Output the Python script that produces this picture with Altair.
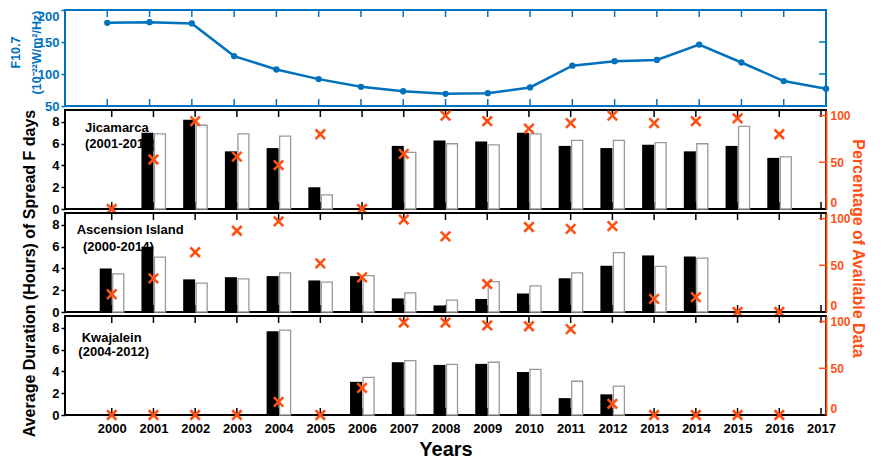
import altair as alt
import pandas as pd

# ---------------- data ----------------
years = list(range(2000, 2018))
f107 = [180, 181, 179, 128, 107, 92, 80, 73, 69, 70, 79, 113, 120, 122, 146, 118, 89, 77]

st_years = list(range(2000, 2017))

jic_black = [None, 7.0, 8.2, 5.3, 5.6, 2.0, None, 5.8, 6.3, 6.2, 7.0, 5.8, 5.6, 5.9, 5.3, 5.8, 4.7]
jic_white = [None, 6.9, 7.7, 6.9, 6.7, 1.3, None, 5.2, 6.0, 5.9, 6.9, 6.3, 6.3, 6.1, 6.0, 7.6, 4.8]
jic_pct = [0, 53, 94, 56, 47, 80, 0, 59, 100, 94, 86, 92, 100, 92, 94, 97, 80]

asc_black = [4.0, 6.0, 3.0, 3.2, 3.3, 2.9, 3.3, 1.25, 0.6, 1.2, 1.7, 3.1, 4.25, 5.2, 5.1, None, None]
asc_white = [3.5, 5.05, 2.65, 3.05, 3.6, 2.75, 3.35, 1.75, 1.1, 2.8, 2.4, 3.6, 5.45, 4.2, 4.95, None, None]
asc_pct = [19, 36, 64, 87, 97, 52, 37, 99, 81, 30, 91, 89, 92, 14, 16, 0, 0]

kwa_black = [None, None, None, None, 7.7, None, 3.05, 4.85, 4.6, 4.7, 3.95, 1.55, 1.9, None, None, None, None]
kwa_white = [None, None, None, None, 7.8, None, 3.45, 5.0, 4.65, 4.85, 4.2, 3.1, 2.65, None, None, None, None]
kwa_pct = [0, 0, 0, 0, 14, 0, 29, 99, 99, 96, 95, 92, 12, 0, 0, 0, 0]

jic_label = ["Jicamarca", "(2001-2016)"]
asc_label = ["Ascension Island", "(2000-2014)"]
kwa_label = ["Kwajalein", "(2004-2012)"]

left_ticks = [0, 2, 4, 6, 8]
right_ticks = [0, 50, 100]
f_ticks = [50, 100, 150, 200]

# ---------------- style ----------------
FONT = "Liberation Sans"
BLUE = "#0072BD"
ORANGE = "#FF5014"
W = 761
H_TOP = 96
H = 99
GAP = 4
LEFT_MAX = 9.1
RIGHT_MAX = 106

xscale = alt.Scale(domain=[1999, 2017], nice=False, zero=False)
yl = alt.Scale(domain=[0, LEFT_MAX], nice=False, zero=True)
yr = alt.Scale(domain=[0, RIGHT_MAX], nice=False, zero=True)
fscale = alt.Scale(domain=[50, 200], nice=False, zero=False)

year_df = pd.DataFrame({"year": years})


def xenc(field, axis):
    return alt.X(f"{field}:Q", scale=xscale, axis=axis)


def year_ticks(h, color, axis):
    top = alt.Chart(year_df).mark_rule(color=color, strokeWidth=1.5).encode(
        x=xenc("year", axis), y=alt.value(0), y2=alt.value(7))
    bot = alt.Chart(year_df).mark_rule(color=color, strokeWidth=1.5).encode(
        x=xenc("year", axis), y=alt.value(h), y2=alt.value(h - 7))
    return [top, bot]


# ---------------- top panel: F10.7 ----------------
f_df = pd.DataFrame({"year": years, "f107": f107})
f_axis = alt.Axis(values=f_ticks, labelFont=FONT, labelFontSize=13, labelFontWeight="bold",
                  labelColor=BLUE, tickColor=BLUE, tickSize=4, tickWidth=1.5, domain=False,
                  grid=False, labelPadding=2,
                  labelBaseline={"condition": {"test": "datum.value == 200", "value": "top"},
                                 "value": "middle"},
                  title=["F10.7", "(10⁻²²W/m²/Hz)"], titleFont=FONT, titleFontSize=12.5,
                  titleFontWeight="bold", titleColor=BLUE, titleX=-43, titleY=42,
                  titleLineHeight=21)
f_line = alt.Chart(f_df).mark_line(
    color=BLUE, strokeWidth=2.5,
    point=alt.OverlayMarkDef(filled=True, size=40, color=BLUE)
).encode(x=xenc("year", None), y=alt.Y("f107:Q", scale=fscale, axis=f_axis))
f_rt = alt.Chart(pd.DataFrame({"v": f_ticks[1:3]})).mark_rule(color=BLUE, strokeWidth=1.5).encode(
    y=alt.Y("v:Q", scale=fscale, axis=f_axis), x=alt.value(W - 7), x2=alt.value(W))
top_panel = alt.layer(*year_ticks(H_TOP, BLUE, None), f_rt, f_line).properties(
    width=W, height=H_TOP, view=alt.ViewBackground(stroke=BLUE, strokeWidth=2))


# ---------------- station panels ----------------
def station(black, white, pct, label, lx, ly, xaxis=None, ltitle=None, ltitle_y=50,
            rtitle=None, rtitle_y=50):
    df = pd.DataFrame({"year": st_years, "black": black, "white": white, "pct": pct})
    la = dict(values=left_ticks, labelFont=FONT, labelFontSize=13, labelFontWeight="bold",
              labelColor="black", tickColor="black", tickSize=4, tickWidth=1.5,
              domain=False, grid=False, labelPadding=2)
    if ltitle:
        la.update(title=ltitle, titleFont=FONT, titleFontSize=16, titleFontWeight="bold",
                  titleColor="black", titleX=-28, titleY=ltitle_y)
    else:
        la.update(title=None)
    laxis = alt.Axis(**la)
    ra = dict(orient="right", values=right_ticks, labelFont=FONT, labelFontSize=12,
              labelFontWeight="bold", labelColor=ORANGE, domainColor=ORANGE, domainWidth=2,
              ticks=False, grid=False, labelPadding=4,
              labelBaseline={"condition": {"test": "datum.value == 0", "value": "bottom"},
                             "value": "middle"})
    if rtitle:
        ra.update(title=rtitle, titleFont=FONT, titleFontSize=16, titleFontWeight="bold",
                  titleColor=ORANGE, titleX=23, titleY=rtitle_y)
    else:
        ra.update(title=None)
    raxis = alt.Axis(**ra)

    ann = pd.DataFrame({"x": lx, "y": ly, "t": label})
    text = alt.Chart(ann).mark_text(align="left", baseline="middle", font=FONT, fontSize=13,
                                    fontWeight="bold", color="black").encode(
        x=xenc("x", xaxis), y=alt.Y("y:Q", scale=yl, axis=laxis), text="t:N")
    bars_b = alt.Chart(df).transform_filter("isValid(datum.black)").mark_bar(
        orient="vertical", color="black", width=12, xOffset=-6).encode(
        x=xenc("year", xaxis), y=alt.Y("black:Q", scale=yl, axis=laxis))
    bars_w = alt.Chart(df).transform_filter("isValid(datum.white)").mark_bar(
        orient="vertical", fill="white", stroke="#999999", strokeWidth=1.3,
        width=11, xOffset=6.5).encode(
        x=xenc("year", xaxis), y=alt.Y("white:Q", scale=yl, axis=laxis))
    left = alt.layer(text, *year_ticks(H, "black", xaxis), bars_b, bars_w)

    rt = alt.Chart(pd.DataFrame({"v": right_ticks[1:]})).mark_rule(
        color=ORANGE, strokeWidth=1.5).encode(
        y=alt.Y("v:Q", scale=yr, axis=raxis), x=alt.value(W - 7), x2=alt.value(W))
    crosses = alt.Chart(df).mark_point(
        shape="M-1,-1L1,1M1,-1L-1,1", filled=False, size=90, strokeWidth=2.6,
        color=ORANGE, opacity=1).encode(
        x=xenc("year", xaxis), y=alt.Y("pct:Q", scale=yr, axis=raxis))
    right = alt.layer(rt, crosses)
    return alt.layer(left, right).resolve_scale(y="independent").properties(
        width=W, height=H, view=alt.ViewBackground(stroke="black", strokeWidth=2))


x_bottom = alt.Axis(values=years, format="d", labelFont=FONT, labelFontSize=13,
                    labelFontWeight="bold", labelColor="black", ticks=False, domain=False,
                    grid=False, labelPadding=7, labelOverlap=False, labelFlush=False,
                    title="Years", titleFont=FONT, titleFontSize=20, titleFontWeight="bold",
                    titleColor="black", titlePadding=4)

p1 = station(jic_black, jic_white, jic_pct, jic_label, [1999.36, 1999.36], [7.47, 5.95])
p2 = station(asc_black, asc_white, asc_pct, asc_label, [1999.16, 1999.31], [7.55, 6.0],
             ltitle="Average Duration (Hours) of Spread F days", ltitle_y=60,
             rtitle="Percentage of Available Data", rtitle_y=35)
p3 = station(kwa_black, kwa_white, kwa_pct, kwa_label, [1999.28, 1999.2], [7.1, 5.8],
             xaxis=x_bottom)

chart = alt.vconcat(top_panel, p1, p2, p3, spacing=GAP, bounds="flush").properties(
    padding={"left": 0, "top": 0, "right": 0, "bottom": 0}
).configure_view(stroke="black", strokeWidth=2)

chart.save("out.html", embed_options={"renderer": "svg", "actions": False})
